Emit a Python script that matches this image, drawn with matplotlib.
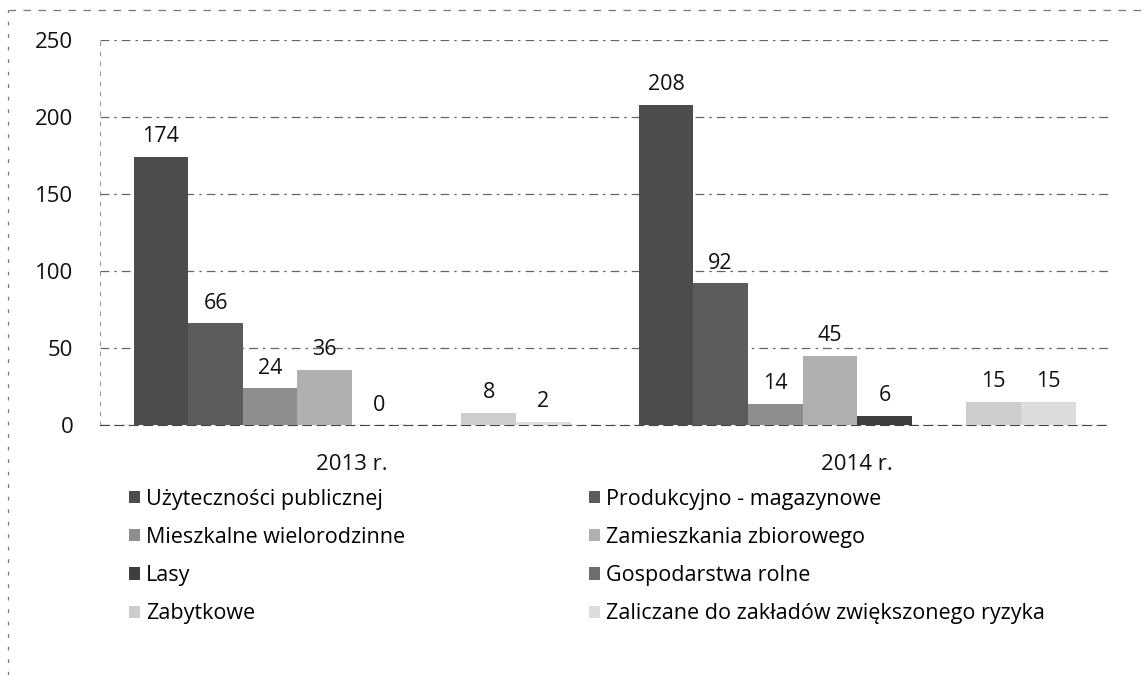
import numpy as np
import matplotlib
matplotlib.use("Agg")
import matplotlib.pyplot as plt
from matplotlib.lines import Line2D
from matplotlib.patches import Patch

plt.rcParams['font.family'] = ['Open Sans', 'DejaVu Sans']

# dane z wykresu
years = ["2013 r.", "2014 r."]
series = [
    "Użyteczności publicznej",
    "Produkcyjno - magazynowe",
    "Mieszkalne wielorodzinne",
    "Zamieszkania zbiorowego",
    "Lasy",
    "Gospodarstwa rolne",
    "Zabytkowe",
    "Zaliczane do zakładów zwiększonego ryzyka",
]
values_2013 = [174, 66, 24, 36, 0, None, 8, 2]
values_2014 = [208, 92, 14, 45, 6, None, 15, 15]
colors = ["#4c4c4c", "#5c5c5c", "#8e8e8e", "#b0b0b0",
          "#3e3e3e", "#6e6e6e", "#cdcdcd", "#dcdcdc"]
yticks = [0, 50, 100, 150, 200, 250]

fig = plt.figure(figsize=(11.44, 6.75), dpi=100)
ax = fig.add_axes([0.087, 0.370, 0.883, 0.571])

n = len(series)
group_w = 0.865
bw = group_w / n
x = np.arange(len(years))
for i, name in enumerate(series):
    vals = [values_2013[i], values_2014[i]]
    pos = x - group_w / 2 + bw * (i + 0.5)
    h = [v if v is not None else 0 for v in vals]
    ax.bar(pos, h, width=bw, color=colors[i], edgecolor="none", zorder=3)
    for p, v in zip(pos, vals):
        if v is None:
            continue
        ax.annotate(str(v), (p, v), xytext=(0, 7), textcoords="offset points",
                    ha="center", va="bottom", fontsize=15.5, color="#111111", zorder=4)

ax.set_xlim(-0.5, 1.5)
ax.set_ylim(0, 250)
ax.set_yticks(yticks)
ax.set_xticks(x)
ax.set_xticklabels(years)
ax.tick_params(axis="both", length=0, labelsize=16, colors="#111111")
ax.tick_params(axis="y", pad=19)
ax.tick_params(axis="x", pad=21)
ax.yaxis.grid(True, color="#666666", linestyle=(0, (7, 4, 2, 4)), linewidth=0.9, zorder=0)
for s in ["top", "right"]:
    ax.spines[s].set_visible(False)
ax.spines["left"].set_color("#999999")
ax.spines["left"].set_linestyle((0, (3, 6)))
ax.spines["bottom"].set_color("#444444")
ax.spines["bottom"].set_linestyle((0, (8, 5)))

# legenda w dwóch kolumnach
handles = [Patch(facecolor=c, edgecolor="none") for c in colors]
leg_kw = dict(loc="upper left", frameon=False, fontsize=15.5, labelspacing=0.8,
              handlelength=0.5, handleheight=0.5, handletextpad=0.3, borderpad=0)
leg1 = fig.legend([handles[i] for i in (0, 2, 4, 6)], [series[i] for i in (0, 2, 4, 6)],
                  bbox_to_anchor=(118 / 1144, 1 - 478 / 675), **leg_kw)
leg2 = fig.legend([handles[i] for i in (1, 3, 5, 7)], [series[i] for i in (1, 3, 5, 7)],
                  bbox_to_anchor=(578 / 1144, 1 - 478 / 675), **leg_kw)

# ramka obszaru wykresu (skan)
fig.add_artist(Line2D([8 / 1144, 1.0], [1 - 10 / 675, 1 - 10 / 675], transform=fig.transFigure,
                      color="#777777", linestyle=(0, (6, 6)), linewidth=0.9))
fig.add_artist(Line2D([8 / 1144, 8 / 1144], [0.0, 1 - 10 / 675], transform=fig.transFigure,
                      color="#777777", linestyle=(0, (3, 7)), linewidth=0.9))

fig.savefig("out.png", dpi=100)
